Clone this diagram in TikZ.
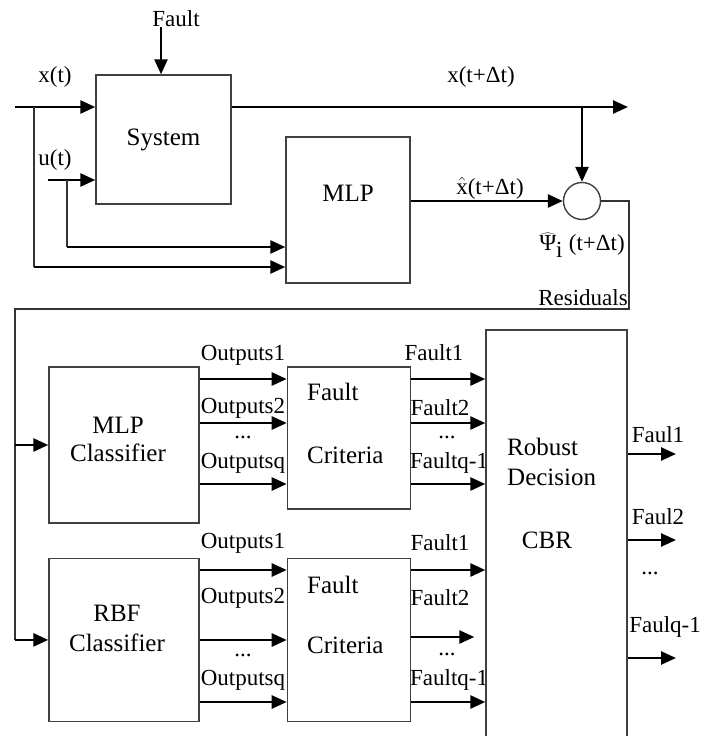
\documentclass[tikz,border=0pt]{standalone}
\usepackage{fontspec}
\setmainfont{Liberation Serif}
\usetikzlibrary{arrows.meta,positioning}

\begin{document}
\begin{tikzpicture}[
x=1pt, y=-1pt,
box/.style={draw=black!75, line width=1.4pt, inner sep=0pt, align=center, font=\fontsize{25}{29}\selectfont},
lbl/.style={inner sep=0pt, font=\fontsize{23}{26}\selectfont},
arr/.style={-{Triangle[length=15pt,width=13pt]}, line width=2.6pt},
ln/.style={line width=1.5pt, draw=black!80}
]
\useasboundingbox (0,0) rectangle (702,736);
\clip (0,0) rectangle (702,736);
% upper part: system, predictor and residual generation
\node[box, minimum width=135pt, minimum height=129pt] (system) at (163.5,139.5) {System};
\node[box, minimum width=124pt, minimum height=146pt] (mlp) at (348,210) {};
\node[circle, draw=black!75, line width=1.4pt, minimum size=37pt, inner sep=0pt] (sum) at (582,201) {};
% lower part: classifiers and fault criteria
\node[box, minimum width=150pt, minimum height=156pt] (mlpc) at (124,445) {};
\node[box, minimum width=123pt, minimum height=142pt, right=87pt of mlpc.north east, anchor=north west] (crit1) {};
\node[box, minimum width=150pt, minimum height=163pt, below=34pt of mlpc] (rbfc) {};
\node[box, minimum width=123pt, minimum height=163pt, right=87pt of rbfc.north east, anchor=north west] (crit2) {};

\node[lbl] (lfault) at (176,19) {Fault};
\node[lbl] (lx) at (55,77) {x(t)};
\node[lbl] (lu) at (55,160) {u(t)};
\node[lbl, font=\fontsize{25}{29}\selectfont] (lmlp) at (348,193) {MLP};
\node[lbl] (lxdt) at (481,77) {x(t+Δt)};
\node[lbl] (lxhat) at (490,188) {$\hat{\mbox{x}}$(t+Δt)};
\node[lbl] (lpsi) at (582,245) {$\widehat{\mbox{Ψ}}_{\mbox{i}}$ (t+Δt)};
\node[lbl] (lres) at (583,298) {Residuals};

\node[lbl, align=center, font=\fontsize{25}{28}\selectfont] (lmlpc) at (118,439) {MLP\\Classifier};
\node[lbl, align=center, font=\fontsize{25}{30}\selectfont] (lrbfc) at (117,628) {RBF\\Classifier};
\node[lbl, anchor=west, font=\fontsize{25}{29}\selectfont] (lf1) at (307,392) {Fault};
\node[lbl, anchor=west, font=\fontsize{25}{29}\selectfont] (lc1) at (307,455) {Criteria};
\node[lbl, anchor=west, font=\fontsize{25}{29}\selectfont] (lf2) at (307,585) {Fault};
\node[lbl, anchor=west, font=\fontsize{25}{29}\selectfont] (lc2) at (307,645) {Criteria};

\node[lbl] (o11) at (243,355) {Outputs1};
\node[lbl] (o12) at (243,408) {Outputs2};
\node[lbl] (o1d) at (243,437) {...};
\node[lbl] (o1q) at (243,463) {Outputsq};
\node[lbl] (o21) at (243,543) {Outputs1};
\node[lbl] (o22) at (243,598) {Outputs2};
\node[lbl] (o2d) at (243,655) {...};
\node[lbl] (o2q) at (243,680) {Outputsq};

\node[lbl] (f11) at (434,353) {Fault1};
\node[lbl] (f12) at (440,408) {Fault2};
\node[lbl] (f1d) at (447,437) {...};
\node[lbl, anchor=west] (f1q) at (410,463) {Faultq-1};
\node[lbl] (f21) at (440,543) {Fault1};
\node[lbl] (f22) at (440,598) {Fault2};
\node[lbl] (f2d) at (447,654) {...};
\node[lbl, anchor=west] (f2q) at (410,680) {Faultq-1};

% decision block drawn over the cut label ends
\node[box, fill=white, minimum width=141pt, minimum height=420pt] (rdm) at (556.5,540) {};
\node[lbl, anchor=west, font=\fontsize{25}{30}\selectfont, align=left] (lrob) at (507,462) {Robust\\Decision};
\node[lbl, font=\fontsize{25}{29}\selectfont] (lcbr) at (547,540) {CBR};

\node[lbl] (d1) at (658,435) {Faul1};
\node[lbl] (d2) at (658,517) {Faul2};
\node[lbl] (dd) at (650,573) {...};
\node[lbl, anchor=east] (dq) at (701,627) {Faulq-1};

\coordinate (fin) at (161,27);
\coordinate (xin) at (15,107);
\coordinate (xbr) at (34,107);
\coordinate (xlow) at (34,267);
\coordinate (uin) at (48,180);
\coordinate (ubr) at (67,180);
\coordinate (ulow) at (67,247);
\coordinate (xout) at (628,107);
\coordinate (xtap) at (582,107);
\coordinate (rescorner) at (629,309);
\coordinate (resleft) at (15,309);
\coordinate (out1) at (676,454);
\coordinate (out2) at (676,540);
\coordinate (outq) at (676,658);

\draw[arr] (fin) -- (fin |- system.north);
\draw[arr] (xin) -- (xin -| system.west); \draw[arr] (uin) -- (uin -| system.west);
\draw[arr] (xin -| system.east) -- (xout);
\draw[arr] (xtap) -- (sum.north);
\draw[ln] (xbr) -- (xlow); \draw[ln] (ubr) -- (ulow);
\draw[arr] (xlow) -- (xlow -| mlp.west); \draw[arr] (ulow) -- (ulow -| mlp.west);
\draw[arr] (mlp.east |- sum) -- (sum.west);
\draw[ln] (sum.east) -| (rescorner) -- (resleft) -- (resleft |- rbfc);
\draw[arr] (resleft |- mlpc) -- (mlpc.west); \draw[arr] (resleft |- rbfc) -- (rbfc.west);

\draw[arr] (mlpc.east |- 0,379) -- (crit1.west |- 0,379);
\draw[arr] (mlpc.east |- 0,423) -- (crit1.west |- 0,423);
\draw[arr] (mlpc.east |- 0,484) -- (crit1.west |- 0,484);
\draw[arr] (rbfc.east |- 0,570) -- (crit2.west |- 0,570);
\draw[arr] (rbfc.east |- 0,640) -- (crit2.west |- 0,640);
\draw[arr] (rbfc.east |- 0,702) -- (crit2.west |- 0,702);

\draw[arr] (crit1.east |- 0,379) -- (rdm.west |- 0,379);
\draw[arr] (crit1.east |- 0,423) -- (rdm.west |- 0,423);
\draw[arr] (crit1.east |- 0,484) -- (rdm.west |- 0,484);
\draw[arr] (crit2.east |- 0,570) -- (rdm.west |- 0,570);
\draw[arr, shorten >=11pt] (crit2.east |- 0,637) -- (rdm.west |- 0,637);
\draw[arr] (crit2.east |- 0,702) -- (rdm.west |- 0,702);

\draw[arr] (out1 -| rdm.east) -- (out1);
\draw[arr] (out2 -| rdm.east) -- (out2);
\draw[arr] (outq -| rdm.east) -- (outq);
\end{tikzpicture}
\end{document}
